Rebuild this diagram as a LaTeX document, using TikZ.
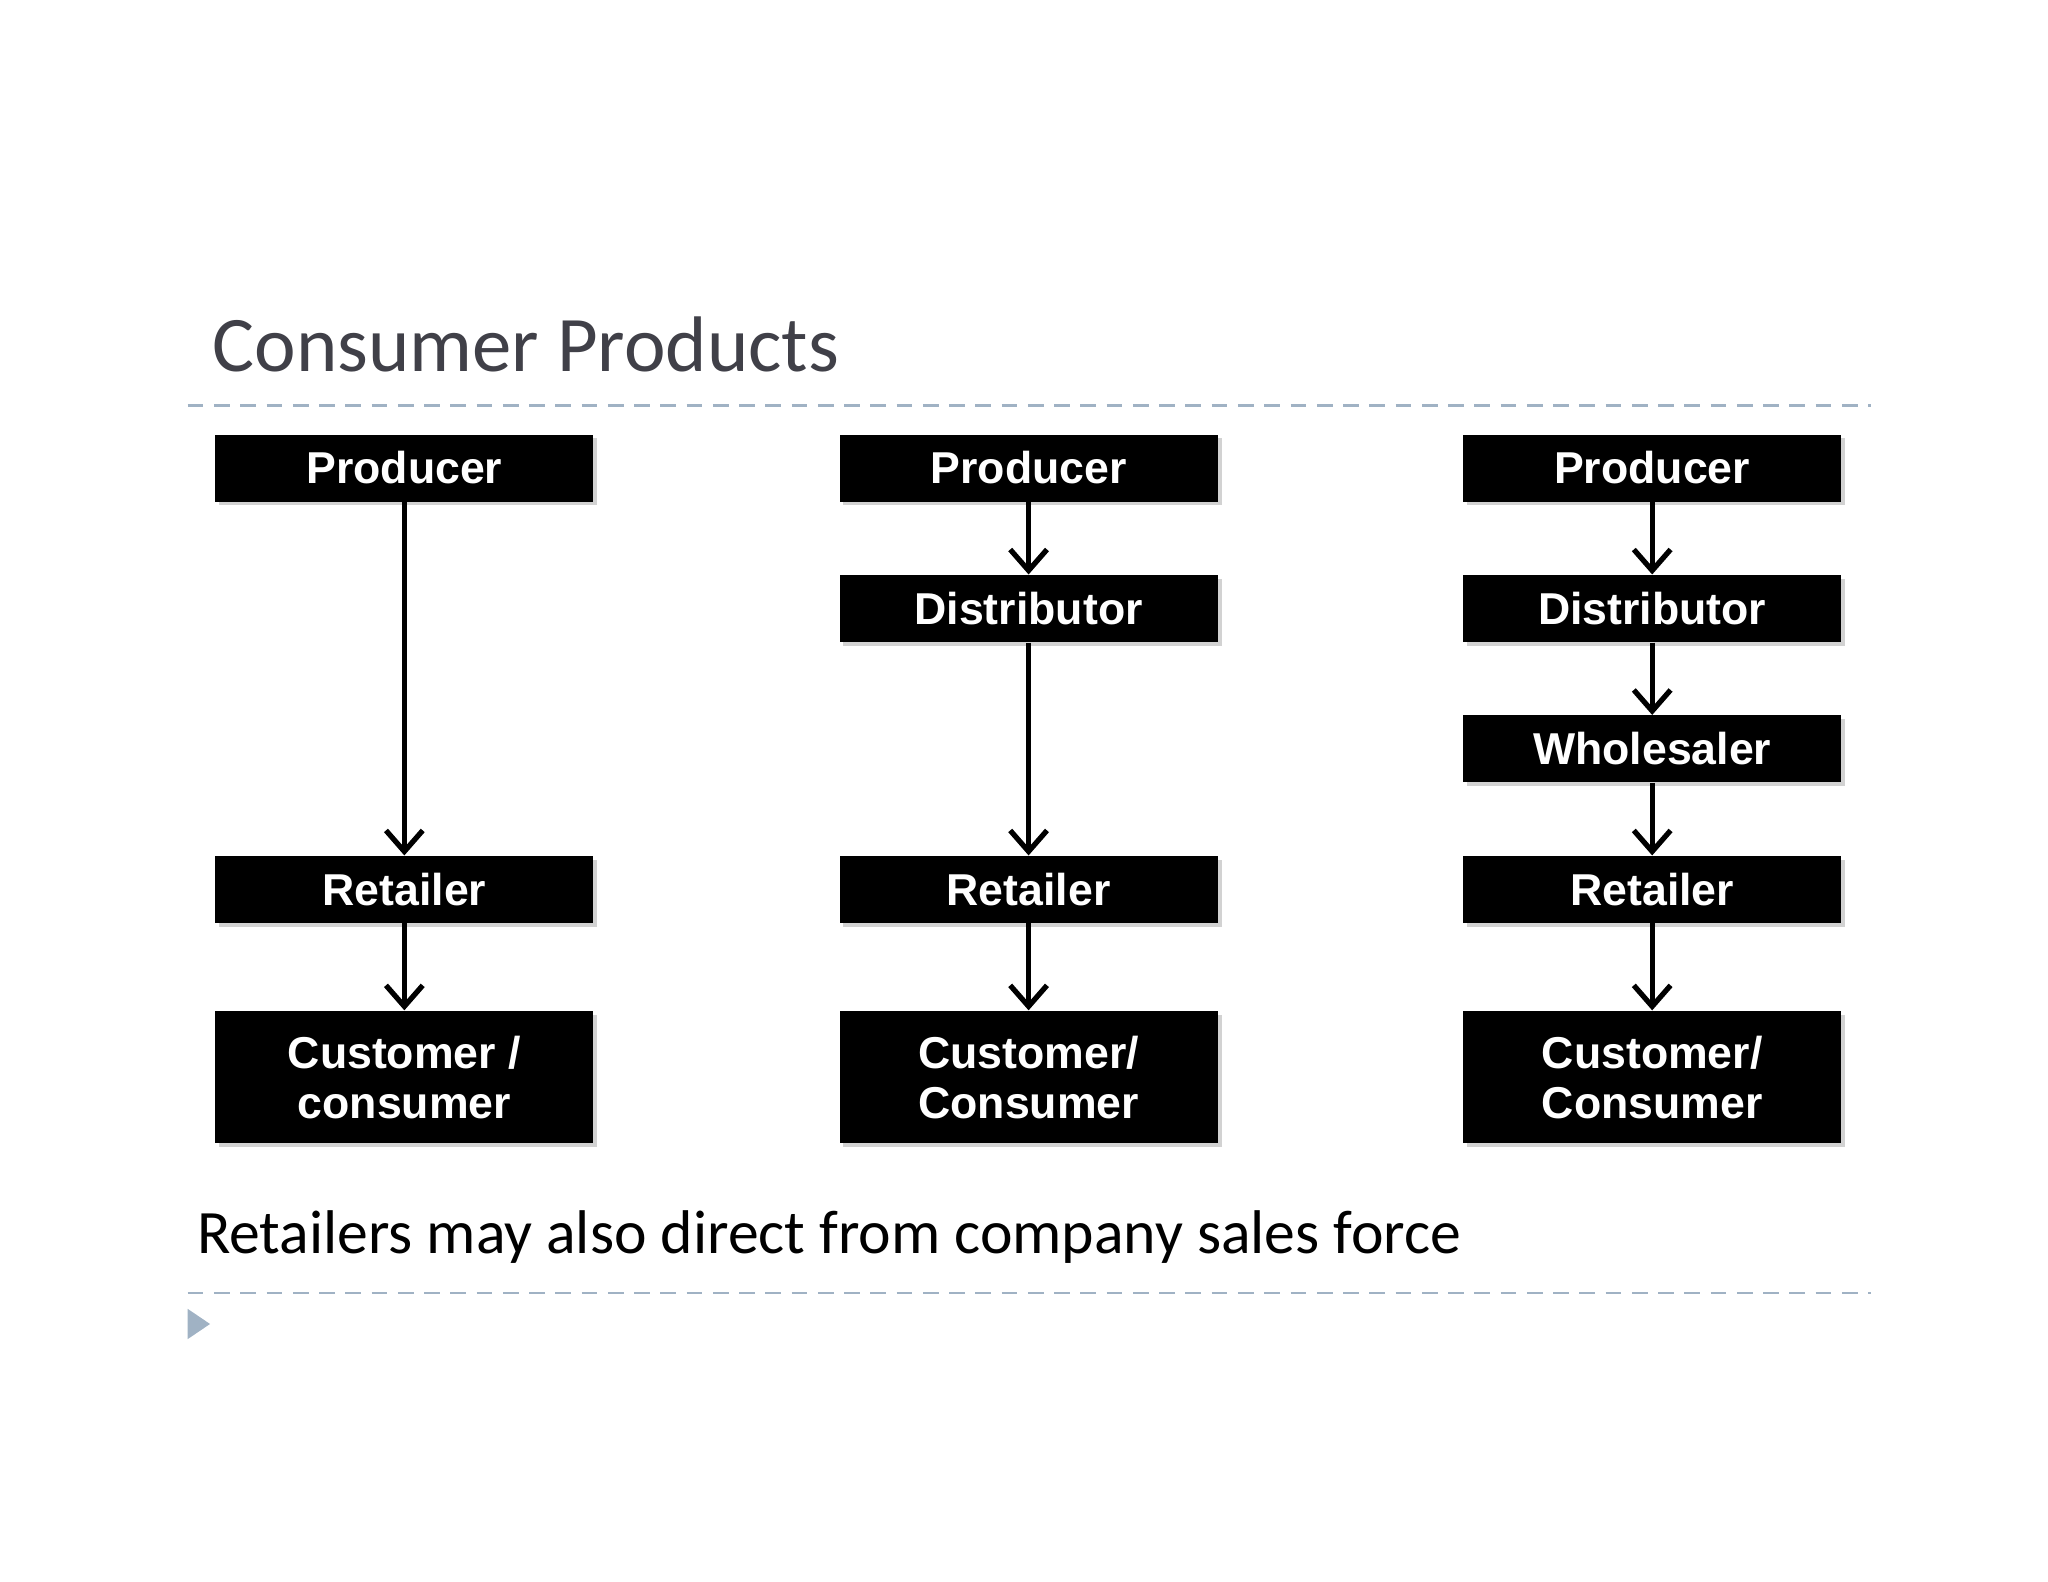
\documentclass[tikz,border=0pt]{standalone}
\usepackage{fontspec}
\setmainfont{Liberation Sans}
\newfontfamily\carl{Carlito}
\usetikzlibrary{arrows.meta,shadows}
\definecolor{dashc}{RGB}{160,178,196}
\definecolor{titc}{RGB}{64,64,72}
\begin{document}
\begin{tikzpicture}[x=0.5pt,y=-0.5pt,
 bx/.style={fill=black,text=white,font=\bfseries\fontsize{17}{19}\selectfont,minimum width=144pt,minimum height=25.5pt,inner sep=0pt,align=center,drop shadow={shadow xshift=1.5pt,shadow yshift=-1.5pt,fill=black!35}},
 bb/.style={bx,minimum height=50.5pt},
 ar/.style={line width=2pt,-{Straight Barb[length=8pt,width=14pt,line width=2pt]}}]
\useasboundingbox (0,0) rectangle (1560,1205);
\node[anchor=base west,text=titc,font=\carl\fontsize{30}{32}\selectfont] (t) at (155,283) {Consumer Products};
\draw[dashc,line width=1pt,dash pattern=on 6pt off 4pt] (143,309) -- (1425,309);
\draw[dashc,line width=1pt,dash pattern=on 6pt off 4pt] (143,985) -- (1425,985);
\fill[dashc] (143,997) -- (160,1008.5) -- (143,1020) -- cycle;
\node[anchor=base west,text=black,font=\carl\fontsize{23.5}{26}\selectfont] (b) at (143,955) {Retailers may also direct from company sales force};
% column 1
\node[bx] (p1) at (308,356.5) {Producer};
\node[bx] (r1) at (308,677.5) {Retailer};
\node[bb] (c1) at (308,820.5) {Customer /\\consumer};
% column 2
\node[bx] (p2) at (783.5,356.5) {Producer};
\node[bx] (d2) at (783.5,463.5) {Distributor};
\node[bx] (r2) at (783.5,677.5) {Retailer};
\node[bb] (c2) at (783.5,820.5) {Customer/\\Consumer};
% column 3
\node[bx] (p3) at (1258.5,356.5) {Producer};
\node[bx] (d3) at (1258.5,463.5) {Distributor};
\node[bx] (w3) at (1258.5,570.5) {Wholesaler};
\node[bx] (r3) at (1258.5,677.5) {Retailer};
\node[bb] (c3) at (1258.5,820.5) {Customer/\\Consumer};
\foreach \a/\b in {p1/r1,r1/c1,p2/d2,d2/r2,r2/c2,p3/d3,d3/w3,w3/r3,r3/c3}
 \draw[ar] (\a.south) -- (\b.north);
\end{tikzpicture}
\end{document}
